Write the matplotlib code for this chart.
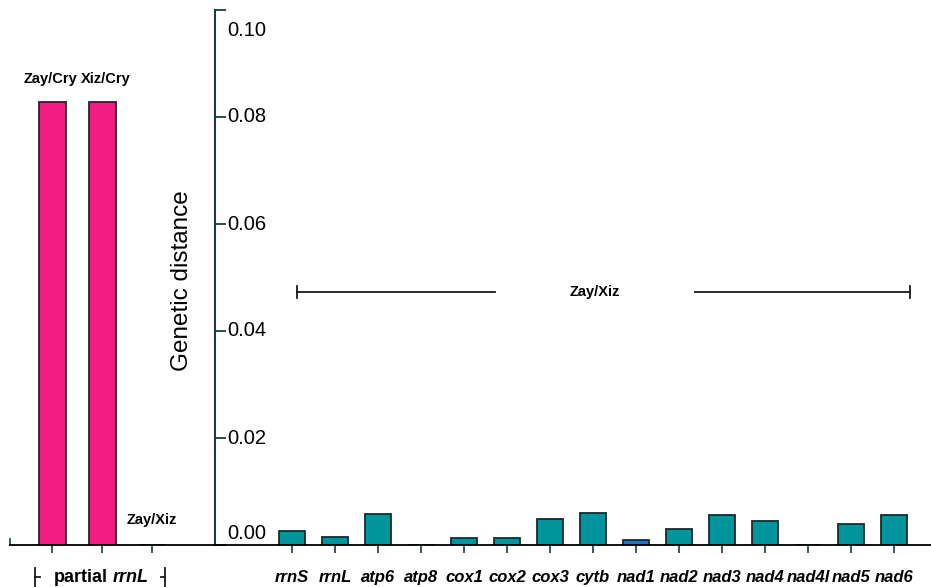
import numpy as np
import matplotlib
matplotlib.use("Agg")
import matplotlib.pyplot as plt

plt.rcParams['font.family'] = ['Liberation Sans', 'DejaVu Sans']

# partial rrnL comparisons (left block)
pair_labels = ['Zay/Cry', 'Xiz/Cry', 'Zay/Xiz']
rrnl_dist = [0.0828, 0.0828, 0.0]

# whole-genome genes, Zay/Xiz (right block)
genes = ['rrnS', 'rrnL', 'atp6', 'atp8', 'cox1', 'cox2', 'cox3', 'cytb',
         'nad1', 'nad2', 'nad3', 'nad4', 'nad4l', 'nad5', 'nad6']
gene_dist = [0.0026, 0.0015, 0.0058, 0.0, 0.0013, 0.0014, 0.0049, 0.0060,
             0.0010, 0.0029, 0.0057, 0.0044, 0.0, 0.0040, 0.0057]
gene_colors = ['#00959C'] * len(genes)
gene_colors[genes.index('nad1')] = '#2672C4'

yticks = [0.0, 0.02, 0.04, 0.06, 0.08, 0.10]

W, H = 931, 587
fig = plt.figure(figsize=(W / 100, H / 100), dpi=100)

y_bot = (H - 545) / H
y_h = (545 - 10) / H

# ---- left block ----
axl = fig.add_axes([10 / W, y_bot, 205 / W, y_h])
xl = np.arange(len(pair_labels))
axl.bar(xl, rrnl_dist, width=0.54, color='#F21C83', edgecolor='#1a2a2a', linewidth=1.3)
axl.set_xlim(-0.84, 3.26)
axl.set_ylim(0, 0.10)
for s in ['top', 'right', 'left']:
    axl.spines[s].set_visible(False)
axl.spines['bottom'].set_linewidth(1.3)
axl.set_yticks([])
axl.set_xticks(xl)
axl.set_xticklabels([])
axl.tick_params(axis='x', length=6, width=1.2, color='#1a3a40')
axl.plot([-0.84, -0.84], [0, 0.0012], color='#1a3a40', lw=1.2, clip_on=False)
axl.text(-0.04, 0.0858, pair_labels[0], ha='center', va='bottom', fontsize=10.5, fontweight='bold')
axl.text(1.08, 0.0858, pair_labels[1], ha='center', va='bottom', fontsize=10.5, fontweight='bold')
axl.text(2, 0.0033, pair_labels[2], ha='center', va='bottom', fontsize=10.5, fontweight='bold')

# "partial rrnL" bracket under the left block
yl = -0.0060
kw = dict(color='#1a1a1a', lw=1.3, clip_on=False)
axl.plot([-0.34, -0.34], [-0.0043, -0.0078], **kw)
axl.plot([-0.34, -0.25], [yl, yl], **kw)
axl.plot([2.26, 2.26], [-0.0043, -0.0078], **kw)
axl.plot([2.17, 2.26], [yl, yl], **kw)
axl.text(0.04, yl, 'partial', ha='left', va='center', fontsize=13, fontweight='bold')
axl.text(1.22, yl, 'rrnL', ha='left', va='center', fontsize=13, fontweight='bold',
         fontstyle='italic')

# ---- right block ----
ax = fig.add_axes([215 / W, y_bot, 716 / W, y_h])
xg = np.arange(len(genes))
ax.bar(xg, gene_dist, width=0.6, color=gene_colors, edgecolor='#1a2a2a', linewidth=1.3)
ax.set_xlim(-1.79, 14.86)
ax.set_ylim(0, 0.10)
for s in ['top', 'right']:
    ax.spines[s].set_visible(False)
ax.spines['left'].set_linewidth(1.5)
ax.spines['left'].set_color('#1a3a40')
ax.spines['bottom'].set_linewidth(1.3)
ax.set_yticks(yticks)
ax.set_yticklabels([])
ax.tick_params(axis='y', direction='in', length=8, width=1.3, color='#1a3a40')
ax.set_xticks(xg)
ax.set_xticklabels(genes, fontsize=12, fontweight='bold', fontstyle='italic')
ax.tick_params(axis='x', length=6, width=1.2, color='#1a3a40', pad=12)

# y tick labels (top and bottom ones nudged inward as in the original)
lab_pos = {0.10: 0.0961, 0.08: 0.08, 0.06: 0.06, 0.04: 0.04, 0.02: 0.02, 0.0: 0.0022}
for v in yticks:
    ax.text(12 / 716, lab_pos[round(v, 2)], f'{v:.2f}', transform=ax.get_yaxis_transform(),
            ha='left', va='center', fontsize=14.5)

ax.set_ylabel('Genetic distance', fontsize=17.5)
ax.yaxis.set_label_coords(-22 / 716, 0.495)

# Zay/Xiz bracket
yb = 0.0473
ax.plot([0.12, 4.72], [yb, yb], color='#1a1a1a', lw=1.3)
ax.plot([9.37, 14.37], [yb, yb], color='#1a1a1a', lw=1.3)
ax.plot([0.12, 0.12], [yb - 0.0012, yb + 0.0012], color='#1a1a1a', lw=1.3)
ax.plot([14.37, 14.37], [yb - 0.0012, yb + 0.0012], color='#1a1a1a', lw=1.3)
ax.text(7.05, yb, 'Zay/Xiz', ha='center', va='center', fontsize=10.5, fontweight='bold')

fig.savefig('out.png', dpi=100)
